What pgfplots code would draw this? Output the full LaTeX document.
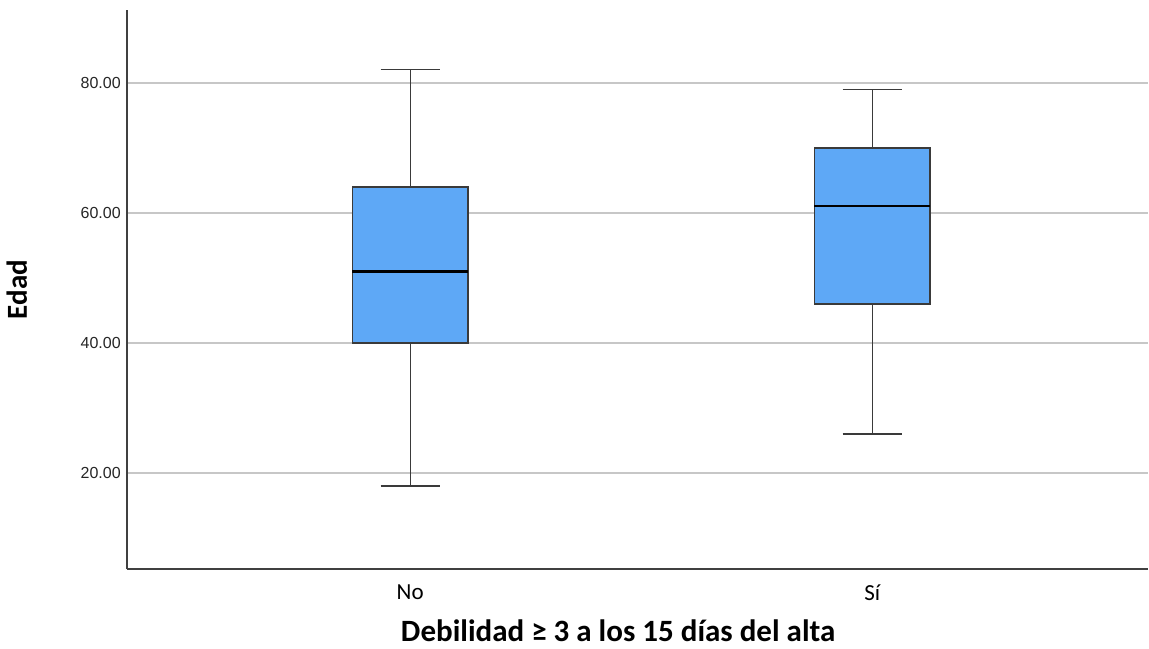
\documentclass[border=0pt]{standalone}
\usepackage{pgfplots}
\pgfplotsset{compat=1.18}
\usepackage{fontspec}
\setmainfont{Carlito}
\newfontfamily\arialf{Liberation Sans}
\definecolor{boxblue}{HTML}{5EA8F6}
\definecolor{edge}{HTML}{3A3A3A}
\begin{document}
\begin{tikzpicture}
\begin{axis}[
  at={(0,0)}, anchor=south west,
  scale only axis, width=510.5pt, height=279.5pt,
  xmin=-0.613, xmax=1.597, ymin=5.2, ymax=91.2,
  axis lines=left,
  axis line style={-, draw=black!75, line width=0.8pt},
  xtick={0,1}, xticklabels={No, Sí},
  ytick={20,40,60,80},
  tick style={draw=none},
  ymajorgrids, grid style={black!22, line width=0.9pt},
  yticklabel style={font=\arialf\fontsize{8}{9}\selectfont, text=black!85, xshift=2.5pt,
    /pgf/number format/.cd, fixed, fixed zerofill, precision=2, assume math mode=true},
  xticklabel style={font=\fontsize{11.5}{13}\selectfont, yshift=-2pt},
  ylabel={\textbf{Edad}},
  ylabel style={at={(axis description cs:-0.108,0.5)}, anchor=center, font=\fontsize{14.5}{16}\selectfont},
  xlabel={\textbf{Debilidad ≥ 3 a los 15 días del alta}},
  xlabel style={at={(axis description cs:0.481,-0.111)}, anchor=center, font=\fontsize{15.5}{17}\selectfont},
]
% --- No: min 18, Q1 40, median 51, Q3 64, max 82
\addplot[edge, line width=0.6pt] coordinates {(0,64) (0,82)};
\addplot[edge, line width=0.6pt] coordinates {(0,18) (0,40)};
\addplot[edge, line width=0.7pt] coordinates {(-0.064,82) (0.064,82)};
\addplot[edge, line width=0.7pt] coordinates {(-0.064,18) (0.064,18)};
\addplot[fill=boxblue, draw=edge, line width=0.8pt] coordinates {(-0.125,40) (0.125,40) (0.125,64) (-0.125,64) (-0.125,40)} -- cycle;
\addplot[black, line width=1.2pt] coordinates {(-0.125,51) (0.125,51)};
% --- Sí: min 26, Q1 46, median 61, Q3 70, max 79
\addplot[edge, line width=0.6pt] coordinates {(1,70) (1,79)};
\addplot[edge, line width=0.6pt] coordinates {(1,26) (1,46)};
\addplot[edge, line width=0.7pt] coordinates {(0.936,79) (1.064,79)};
\addplot[edge, line width=0.7pt] coordinates {(0.936,26) (1.064,26)};
\addplot[fill=boxblue, draw=edge, line width=0.8pt] coordinates {(0.875,46) (1.125,46) (1.125,70) (0.875,70) (0.875,46)} -- cycle;
\addplot[black, line width=1.2pt] coordinates {(0.875,61) (1.125,61)};
\end{axis}
\pgfresetboundingbox
\path[use as bounding box] (-63.5pt,-39.5pt) rectangle (511pt,284.5pt);
\end{tikzpicture}
\end{document}
